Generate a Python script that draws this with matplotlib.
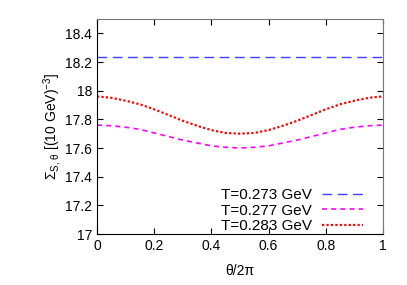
import numpy as np
import matplotlib
matplotlib.use("Agg")
import matplotlib.pyplot as plt

plt.rcParams['font.family'] = ['Liberation Sans', 'DejaVu Sans']
plt.rcParams['mathtext.fontset'] = 'custom'
plt.rcParams['mathtext.rm'] = 'Liberation Sans'
plt.rcParams['mathtext.it'] = 'Liberation Sans'

# data
theta = [0.0, 0.05, 0.1, 0.15, 0.2, 0.25, 0.3, 0.35, 0.4, 0.45, 0.5,
         0.55, 0.6, 0.65, 0.7, 0.75, 0.8, 0.85, 0.9, 0.95, 1.0]
sig_273 = [18.235] * 21
sig_277 = [17.76, 17.755, 17.745, 17.73, 17.705, 17.68, 17.655, 17.635, 17.615, 17.605, 17.60,
           17.605, 17.615, 17.635, 17.655, 17.68, 17.705, 17.73, 17.745, 17.755, 17.76]
sig_283 = [17.96, 17.95, 17.93, 17.905, 17.87, 17.83, 17.79, 17.755, 17.725, 17.705, 17.70,
           17.705, 17.725, 17.755, 17.79, 17.83, 17.87, 17.905, 17.93, 17.95, 17.96]
labels = ['T=0.273 GeV', 'T=0.277 GeV', 'T=0.283 GeV']

fig = plt.figure(figsize=(4.07, 2.85), dpi=100)
ax = fig.add_axes([97/407, 1-234/285, (383-97)/407, (234-19)/285])

ax.plot(theta, sig_273, color='#4040ff', lw=1, dashes=(7, 4), label=labels[0])
ax.plot(theta, sig_277, color='#ff00ff', lw=1.2, dashes=(3, 2.5), label=labels[1])
ax.plot(theta, sig_283, color='#ff0000', lw=1.6, dashes=(1, 1), label=labels[2])

ax.set_xlim(0, 1)
ax.set_ylim(17, 18.5)
ax.set_xticks([0, 0.2, 0.4, 0.6, 0.8, 1])
ax.set_xticklabels(['0', '0.2', '0.4', '0.6', '0.8', '1'])
ax.set_yticks([17, 17.2, 17.4, 17.6, 17.8, 18, 18.2, 18.4])
ax.set_yticklabels(['17', '17.2', '17.4', '17.6', '17.8', '18', '18.2', '18.4'])
ax.tick_params(direction='in', top=True, right=True, length=4, labelsize=10, width=0.8)
for s in ['top', 'right']:
    ax.spines[s].set_color('#777777')

ax.set_xlabel('θ/2π', fontsize=10, labelpad=8)
ax.set_ylabel(r'$\Sigma_{\mathrm{S,\,θ}}$ [(10 GeV)$^{-3}$]', fontsize=10, labelpad=1)

ax.legend(loc='lower right', frameon=False, markerfirst=False, fontsize=11,
          handlelength=2.7, labelspacing=0.1, handletextpad=0.65,
          borderpad=0, borderaxespad=0, bbox_to_anchor=(0.93, 0.004))

fig.savefig('out.png', dpi=100)
